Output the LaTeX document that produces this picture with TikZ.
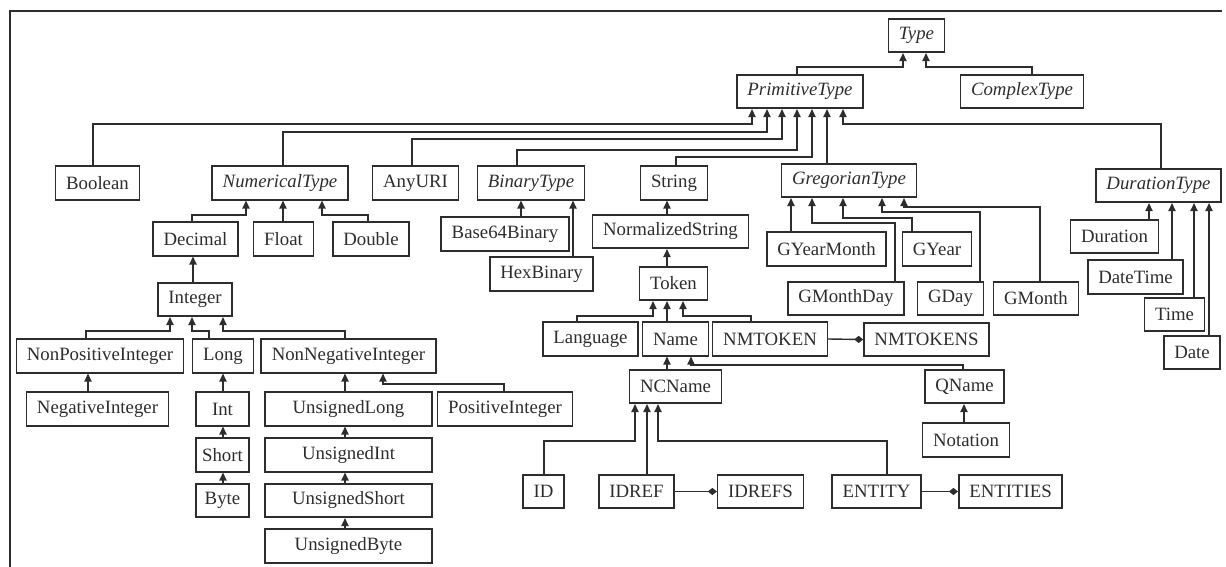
\documentclass[tikz,border=0pt]{standalone}
\usepackage{fontspec}
\setmainfont{Liberation Serif}
\usetikzlibrary{arrows.meta}

\begin{document}
\begin{tikzpicture}[x=0.5pt, y=-0.5pt,
  cls/.style={shape=rectangle, draw=linegray, line width=0.8pt, inner xsep=5.25pt, inner ysep=0pt,
    minimum height=16.75pt, text=linegray, font=\fontsize{9.4}{11}\selectfont},
  abs/.style={cls, font=\fontsize{9.4}{11}\selectfont\itshape},
  inh/.style={draw=linegray, line width=0.7pt, -{Triangle[length=4pt,width=3.6pt]}},
  agg/.style={draw=linegray, line width=0.7pt, -{Diamond[length=4.5pt,width=3.6pt]}}]
\definecolor{linegray}{RGB}{45,45,45}

\useasboundingbox (0,0) rectangle (1226,567);
\draw [draw=linegray, line width=1pt] (10,567) -- (10,11) -- (1222,11);

% top of the hierarchy
\node [abs] (type) at (916.5,35.5) {Type};
\node [abs] (primitive) at (800,91.5) {PrimitiveType};
\node [abs] (complex) at (1022,91.5) {ComplexType};

\node [cls] (boolean) at (97.5,183) {Boolean};
\node [abs] (numerical) at (280,183) {NumericalType};
\node [cls] (anyuri) at (415.5,183) {AnyURI};
\node [abs] (binary) at (531,183) {BinaryType};
\node [cls] (string) at (674,183) {String};
\node [abs] (gregorian) at (849,180.5) {GregorianType};
\node [abs] (durationtype) at (1158.5,185.5) {DurationType};

% numbers
\node [cls] (decimal) at (195.5,239) {Decimal};
\node [cls] (float) at (283.5,239) {Float};
\node [cls] (double) at (371,239) {Double};
\node [cls] (integer) at (195,299.5) {Integer};
\node [cls] (nonpos) at (100,356) {NonPositiveInteger};
\node [cls] (long) at (223,356) {Long};
\node [cls] (nonneg) at (348.5,356) {NonNegativeInteger};
\node [cls] (negint) at (97.5,409) {NegativeInteger};
\node [cls, minimum width=26.5pt, inner xsep=2pt] (int) at (222.5,409) {Int};
\node [cls, minimum width=26.5pt, inner xsep=2pt] (short) at (222.5,455) {Short};
\node [cls, minimum width=26.5pt, inner xsep=2pt] (byte) at (222.5,500.5) {Byte};
\node [cls, minimum width=83.5pt] (ulong) at (348.5,409) {UnsignedLong};
\node [cls, minimum width=83.5pt] (uint) at (348.5,455) {UnsignedInt};
\node [cls, minimum width=83.5pt] (ushort) at (348.5,500.5) {UnsignedShort};
\node [cls, minimum width=83.5pt] (ubyte) at (348.5,546) {UnsignedByte};
\node [cls] (posint) at (505,409) {PositiveInteger};

% binary and strings
\node [cls] (base64) at (505,234) {Base64Binary};
\node [cls] (hex) at (541.5,274) {HexBinary};
\node [cls] (normstr) at (670.5,231.5) {NormalizedString};
\node [cls] (token) at (673.5,283.5) {Token};
\node [cls] (language) at (590.5,339) {Language};
\node [cls] (name) at (675.5,339) {Name};
\node [cls] (nmtoken) at (770,339) {NMTOKEN};
\node [cls] (nmtokens) at (926.5,339.5) {NMTOKENS};
\node [cls] (ncname) at (675.5,386.5) {NCName};
\node [cls] (qname) at (964.5,386.5) {QName};
\node [cls] (notation) at (966,440) {Notation};
\node [cls] (id) at (543.5,491.5) {ID};
\node [cls] (idref) at (636.5,491.5) {IDREF};
\node [cls] (idrefs) at (760.5,491.5) {IDREFS};
\node [cls] (entity) at (876.5,491.5) {ENTITY};
\node [cls] (entities) at (1010.5,491.5) {ENTITIES};

% dates and durations
\node [cls] (gyearmonth) at (826.5,249) {GYearMonth};
\node [cls] (gyear) at (937,249) {GYear};
\node [cls] (gmonthday) at (846,298.5) {GMonthDay};
\node [cls] (gday) at (950.5,298.5) {GDay};
\node [cls] (gmonth) at (1036,298.5) {GMonth};
\node [cls] (duration) at (1114.5,236.5) {Duration};
\node [cls] (datetime) at (1135.5,277) {DateTime};
\node [cls] (time) at (1174.5,314.5) {Time};
\node [cls] (date) at (1192,352.5) {Date};

% inheritance
\draw [inh] (primitive.north -| 797,0) |- (903,67) -- (type.south -| 903,0);
\draw [inh] (complex.north -| 1032,0) |- (926,67) -- (type.south -| 926,0);

\draw [inh] (boolean.north -| 93,0) |- (752,124) -- (primitive.south -| 752,0);
\draw [inh] (numerical.north -| 283,0) |- (767,132) -- (primitive.south -| 767,0);
\draw [inh] (anyuri.north -| 412,0) |- (782,139) -- (primitive.south -| 782,0);
\draw [inh] (binary.north -| 517,0) |- (797,150) -- (primitive.south -| 797,0);
\draw [inh] (string.north -| 676,0) |- (812,157) -- (primitive.south -| 812,0);
\draw [inh] (gregorian.north -| 827,0) -- (primitive.south -| 827,0);
\draw [inh] (durationtype.north -| 1161,0) |- (843,124) -- (primitive.south -| 843,0);

\draw [inh] (decimal.north -| 192,0) |- (246,215) -- (numerical.south -| 246,0);
\draw [inh] (float.north -| 283,0) -- (numerical.south -| 283,0);
\draw [inh] (double.north -| 368,0) |- (322,215) -- (numerical.south -| 322,0);
\draw [inh] (integer.north -| 193,0) -- (decimal.south -| 193,0);
\draw [inh] (nonpos.north -| 86,0) |- (170,331) -- (integer.south -| 170,0);
\draw [inh] (long.north -| 209,0) |- (192,331) -- (integer.south -| 192,0);
\draw [inh] (nonneg.north -| 345,0) |- (223,331) -- (integer.south -| 223,0);
\draw [inh] (negint.north -| 88,0) -- (nonpos.south -| 88,0);
\draw [inh] (int.north -| 223,0) -- (long.south -| 223,0);
\draw [inh] (short.north -| 223,0) -- (int.south -| 223,0);
\draw [inh] (byte.north -| 223,0) -- (short.south -| 223,0);
\draw [inh] (ulong.north -| 345,0) -- (nonneg.south -| 345,0);
\draw [inh] (uint.north -| 345,0) -- (ulong.south -| 345,0);
\draw [inh] (ushort.north -| 345,0) -- (uint.south -| 345,0);
\draw [inh] (ubyte.north -| 345,0) -- (ushort.south -| 345,0);
\draw [inh] (posint.north -| 504,0) |- (383,384) -- (nonneg.south -| 383,0);

\draw [inh] (base64.north -| 521,0) -- (binary.south -| 521,0);
\draw [inh] (hex.north -| 573,0) -- (binary.south -| 573,0);
\draw [inh] (normstr.north -| 667,0) -- (string.south -| 667,0);
\draw [inh] (token.north -| 667,0) -- (normstr.south -| 667,0);
\draw [inh] (language.north -| 577,0) |- (653,316) -- (token.south -| 653,0);
\draw [inh] (name.north -| 667,0) -- (token.south -| 667,0);
\draw [inh] (nmtoken.north -| 751,0) |- (683,316) -- (token.south -| 683,0);
\draw [inh] (ncname.north -| 667,0) -- (name.south -| 667,0);
\draw [inh] (qname.north -| 963,0) |- (691,365) -- (name.south -| 691,0);
\draw [inh] (notation.north -| 964,0) -- (qname.south -| 964,0);
\draw [inh] (id.north -| 544,0) |- (635,441) -- (ncname.south -| 635,0);
\draw [inh] (idref.north -| 647,0) -- (ncname.south -| 647,0);
\draw [inh] (entity.north -| 887,0) |- (658,441) -- (ncname.south -| 658,0);

\draw [inh] (gyearmonth.north -| 791,0) -- (gregorian.south -| 791,0);
\draw [inh] (gmonthday.north -| 895,0) |- (812,223) -- (gregorian.south -| 812,0);
\draw [inh] (gyear.north -| 912,0) |- (843,218) -- (gregorian.south -| 843,0);
\draw [inh] (gday.north -| 980,0) |- (882,212) -- (gregorian.south -| 882,0);
\draw [inh] (gmonth.north -| 1040,0) |- (904,207) -- (gregorian.south -| 904,0);

\draw [inh] (duration.north -| 1149,0) -- (durationtype.south -| 1149,0);
\draw [inh] (datetime.north -| 1172,0) -- (durationtype.south -| 1172,0);
\draw [inh] (time.north -| 1194,0) -- (durationtype.south -| 1194,0);
\draw [inh] (date.north -| 1209,0) -- (durationtype.south -| 1209,0);

% list types
\draw [agg] (nmtoken.east) -- (nmtokens.west);
\draw [agg] (idref.east) -- (idrefs.west);
\draw [agg] (entity.east) -- (entities.west);
\end{tikzpicture}
\end{document}
